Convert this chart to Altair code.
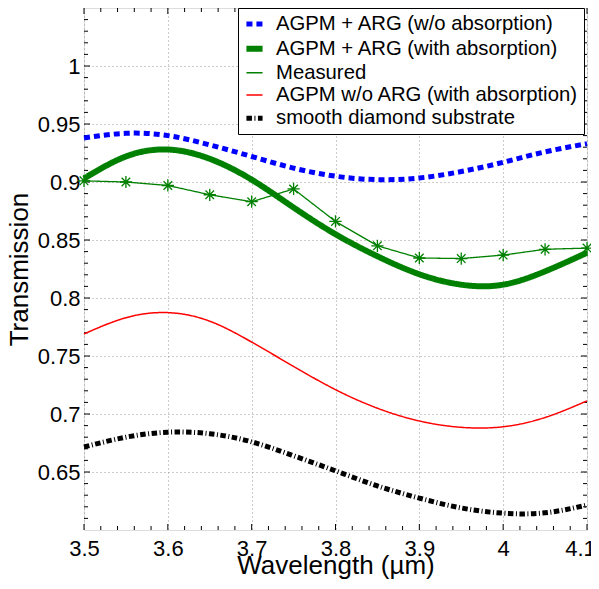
import altair as alt
import pandas as pd

# ---------------- data ----------------
wavelength = [3.50, 3.55, 3.60, 3.65, 3.70, 3.75, 3.80, 3.85, 3.90, 3.95, 4.00, 4.05, 4.10]
t_arg_noabs = [0.938, 0.942, 0.940, 0.932, 0.922, 0.912, 0.905, 0.902, 0.9035, 0.909, 0.917, 0.926, 0.933]
t_arg_abs = [0.903, 0.922, 0.928, 0.920, 0.902, 0.878, 0.855, 0.836, 0.8205, 0.8115, 0.8115, 0.823, 0.839]
t_measured = [0.901, 0.900, 0.897, 0.889, 0.883, 0.894, 0.866, 0.845, 0.8345, 0.834, 0.837, 0.842, 0.843]
t_noarg_abs = [0.769, 0.783, 0.7874, 0.780, 0.762, 0.741, 0.721, 0.705, 0.694, 0.6885, 0.689, 0.697, 0.7113]
t_diamond = [0.6716, 0.680, 0.6843, 0.683, 0.676, 0.664, 0.651, 0.638, 0.6275, 0.619, 0.6145, 0.6148, 0.6215]

series_names = [
    "AGPM + ARG (w/o absorption)",
    "AGPM + ARG (with absorption)",
    "Measured",
    "AGPM w/o ARG (with absorption)",
    "smooth diamond substrate",
]
series_values = [t_arg_noabs, t_arg_abs, t_measured, t_noarg_abs, t_diamond]

x_major = [3.5, 3.6, 3.7, 3.8, 3.9, 4.0, 4.1]
x_minor = [3.52, 3.54, 3.56, 3.58, 3.62, 3.64, 3.66, 3.68, 3.72, 3.74, 3.76, 3.78,
           3.82, 3.84, 3.86, 3.88, 3.92, 3.94, 3.96, 3.98, 4.02, 4.04, 4.06, 4.08]
y_major = [0.65, 0.7, 0.75, 0.8, 0.85, 0.9, 0.95, 1.0]
y_minor = [0.61, 0.62, 0.63, 0.64, 0.66, 0.67, 0.68, 0.69, 0.71, 0.72, 0.73, 0.74,
           0.76, 0.77, 0.78, 0.79, 0.81, 0.82, 0.83, 0.84, 0.86, 0.87, 0.88, 0.89,
           0.91, 0.92, 0.93, 0.94, 0.96, 0.97, 0.98, 0.99, 1.01, 1.02, 1.03, 1.04]

# ---------------- styles ----------------
colors = ["#0000ff", "#008000", "#008000", "#ff0000", "#000000"]
dashes = [[6, 4], [1, 0], [1, 0], [1, 0], [5.5, 2.5, 1, 2.5]]
widths = [5, 6, 1.3, 1.5, 5]

W, H = 503, 522
FONT = "Liberation Sans"

rows = []
for name, vals in zip(series_names, series_values):
    for w, t in zip(wavelength, vals):
        rows.append({"wl": w, "T": t, "series": name})
df = pd.DataFrame(rows)
model_df = df[df["series"] != "Measured"]
meas_df = df[df["series"] == "Measured"]

xscale = alt.Scale(domain=[3.5, 4.1], nice=False, zero=False)
yscale = alt.Scale(domain=[0.6, 1.05], nice=False, zero=False)

xaxis = alt.Axis(values=x_major, format="~g", ticks=False, tickSize=0, domain=False,
                 grid=True, gridDash=[1, 3], gridColor="#999999", gridWidth=1,
                 labelFontSize=22, labelFont=FONT, labelColor="black",
                 labelBaseline="alphabetic", labelPadding=25, labelFlush=False,
                 labelOffset={"condition": {"test": "datum.value > 4.05", "value": -7}, "value": 0},
                 title="Wavelength (µm)", titleFontSize=26, titleFont=FONT,
                 titleFontWeight="normal", titleColor="black",
                 titleBaseline="alphabetic", titleY=43)
yaxis = alt.Axis(values=y_major, format="~g", ticks=False, tickSize=0, domain=False,
                 grid=True, gridDash=[1, 3], gridColor="#999999", gridWidth=1,
                 labelFontSize=22, labelFont=FONT, labelColor="black",
                 labelPadding=4, labelFlush=False,
                 title="Transmission", titleFontSize=26, titleFont=FONT,
                 titleFontWeight="normal", titleColor="black",
                 titleAngle=270, titleBaseline="alphabetic", titleAlign="center",
                 titleX=-57, titleY=H / 2)

legend = alt.Legend(title=None, orient="none", legendX=154, legendY=0,
                    fillColor="white", strokeColor="black", padding=5,
                    cornerRadius=0, labelFontSize=20.3, labelFont=FONT,
                    labelColor="black", symbolType="stroke", symbolSize=260,
                    labelOffset=10, rowPadding=1.3, labelLimit=500)

cscale = alt.Scale(domain=series_names, range=colors)
dscale = alt.Scale(domain=series_names, range=dashes)
wscale = alt.Scale(type="ordinal", domain=series_names, range=widths)


def series_layer(data, interp):
    return alt.Chart(data).mark_line(interpolate=interp).encode(
        x=alt.X("wl:Q", scale=xscale, axis=xaxis),
        y=alt.Y("T:Q", scale=yscale, axis=yaxis),
        color=alt.Color("series:N", scale=cscale, legend=legend),
        strokeDash=alt.StrokeDash("series:N", scale=dscale, legend=legend),
        strokeWidth=alt.StrokeWidth("series:N", scale=wscale, legend=legend),
        order=alt.Order("wl:Q"),
    )


models = series_layer(model_df, "natural")
meas_line = series_layer(meas_df, "linear")

star = "M-1,0L1,0M0,-1L0,1M-0.7,-0.7L0.7,0.7M-0.7,0.7L0.7,-0.7"
meas_pts = alt.Chart(meas_df).mark_point(shape=star, filled=False, size=150,
                                         color="#008000", strokeWidth=1.3, opacity=1).encode(
    x=alt.X("wl:Q", scale=xscale), y=alt.Y("T:Q", scale=yscale))


def xticks(vals, length):
    d = pd.DataFrame({"v": vals})
    bot = alt.Chart(d).mark_rule(color="black", strokeWidth=1).encode(
        x=alt.X("v:Q", scale=xscale), y=alt.value(H), y2=alt.value(H - length))
    top = alt.Chart(d).mark_rule(color="black", strokeWidth=1).encode(
        x=alt.X("v:Q", scale=xscale), y=alt.value(0), y2=alt.value(length))
    return [bot, top]


def yticks(vals, length):
    d = pd.DataFrame({"v": vals})
    left = alt.Chart(d).mark_rule(color="black", strokeWidth=1).encode(
        y=alt.Y("v:Q", scale=yscale), x=alt.value(0), x2=alt.value(length))
    right = alt.Chart(d).mark_rule(color="black", strokeWidth=1).encode(
        y=alt.Y("v:Q", scale=yscale), x=alt.value(W), x2=alt.value(W - length))
    return [left, right]


tick_layers = xticks(x_major, 6) + xticks(x_minor, 4) + yticks(y_major, 6) + yticks(y_minor, 4)

chart = alt.layer(*tick_layers, models, meas_line, meas_pts).properties(
    width=W, height=H,
    autosize=alt.AutoSizeParams(type="none"),
    padding={"left": 76, "top": 0, "right": 4, "bottom": 51},
).configure_view(stroke="black", strokeWidth=1.5).configure(font=FONT)

chart.save("out.html", embed_options={"renderer": "svg", "actions": False})
